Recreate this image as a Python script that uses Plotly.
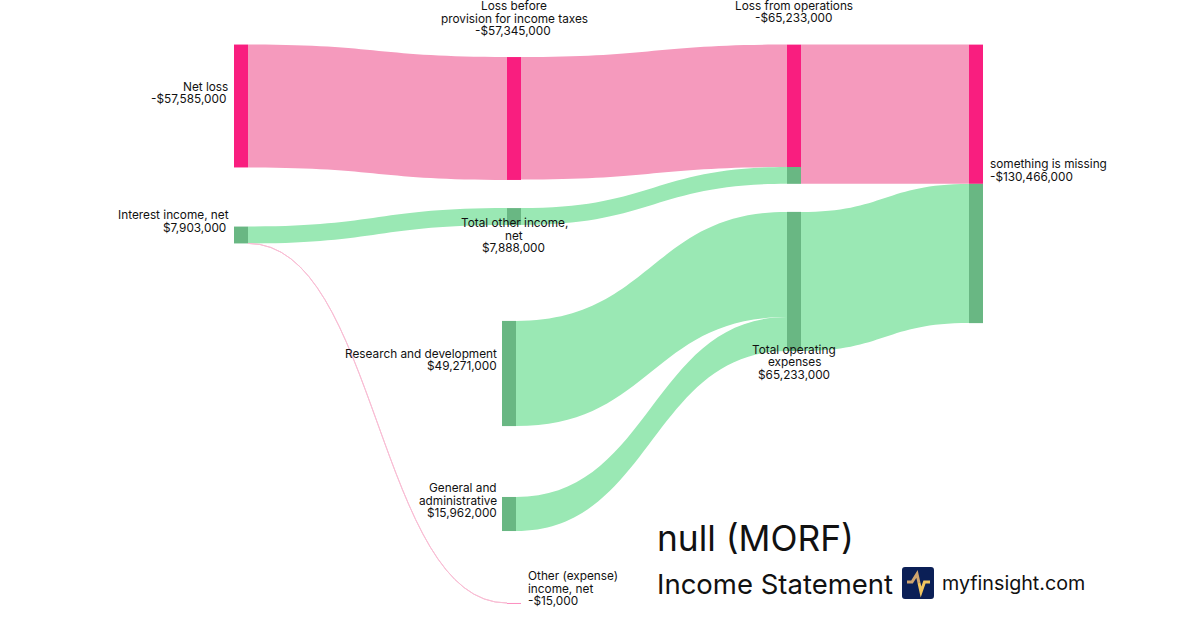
import plotly.graph_objects as go

W, H = 1200, 630

# ---- data (USD millions) ----
node_names = ["Net loss", "Interest income, net", "Loss before provision for income taxes",
              "Total other income, net", "Research and development", "General and administrative",
              "Other (expense) income, net", "Loss from operations", "Loss from operations (other income)",
              "Total operating expenses", "something is missing", "something is missing (expenses)"]
link_source = [0, 1, 1, 2, 3, 4, 5, 7, 8, 9]
link_target = [2, 3, 6, 7, 8, 9, 9, 10, 10, 11]
link_value = [57.585, 7.888, 0.015, 57.345, 7.888, 49.271, 15.962, 57.345, 7.888, 65.233]

PINK, GREEN = "#F91E7F", "#69B783"
PINK_L, GREEN_L = "#F59ABD", "#9AE8B4"
PINK_HAIR = "#F9BDD4"
node_colors = [PINK, GREEN, PINK, GREEN, GREEN, GREEN, PINK, PINK, GREEN, GREEN, PINK, GREEN]
link_colors = [PINK_L, GREEN_L, PINK_HAIR, PINK_L, GREEN_L, GREEN_L, GREEN_L, PINK_L, PINK_L, GREEN_L]

# ---- layout in pixels ----
node_cx = [241, 241, 514, 514, 509, 509, 514, 794, 794, 794, 976, 976]
node_cy = [106, 235, 118.5, 216.5, 373.5, 514, 603, 105.805, 175.42, 281.5, 114.225, 253.5]

fig = go.Figure(go.Sankey(
    arrangement="fixed",
    domain=dict(x=[0, 1], y=[0, 1]),
    node=dict(
        label=[""] * len(node_names), customdata=node_names, hovertemplate="%{customdata}<extra></extra>",
        x=[c / W for c in node_cx], y=[c / H for c in node_cy],
        thickness=14, pad=117, color=node_colors,
        line=dict(width=0),
    ),
    link=dict(
        source=link_source, target=link_target, value=link_value, color=link_colors,
        line=dict(width=0),
        hoverinfo="skip",
    ),
))

# ---- text ----
label_lines = [
    ("Net loss", 228, 87, "right"), ("-$57,585,000", 226, 99, "right"),
    ("Interest income, net", 229, 215, "right"), ("$7,903,000", 226, 228, "right"),
    ("Loss before", 514, 6, "center"), ("provision for income taxes", 514, 19, "center"), ("-$57,345,000", 513, 31, "center"),
    ("Total other income,", 514, 223, "center"), ("net", 514, 236, "center"), ("$7,888,000", 513, 248, "center"),
    ("Research and development", 497, 354, "right"), ("$49,271,000", 497, 366, "right"),
    ("General and", 497, 488, "right"), ("administrative", 497, 501, "right"), ("$15,962,000", 497, 513, "right"),
    ("Other (expense)", 528, 576, "left"), ("income, net", 528, 589, "left"), ("-$15,000", 528, 601, "left"),
    ("Loss from operations", 794, 6, "center"), ("-$65,233,000", 794, 18, "center"),
    ("Total operating", 794, 350, "center"), ("expenses", 794, 362, "center"), ("$65,233,000", 794, 375, "center"),
    ("something is missing", 990, 164, "left"), ("-$130,466,000", 990, 177, "left"),
]
annotations = [
    dict(text=t, x=x / W, y=1 - y / H, xref="paper", yref="paper", xanchor=a, yanchor="middle",
         showarrow=False, align=a, font=dict(family="Inter", size=11.8, color="#111111"),
         borderpad=0, borderwidth=0)
    for t, x, y, a in label_lines
]
for t, x, y, s in [("null (MORF)", 657, 538, 35.3), ("Income Statement", 657, 584, 27.5), ("myfinsight.com", 942, 583, 19.7)]:
    annotations.append(dict(text=t, x=x / W, y=1 - y / H, xref="paper", yref="paper", xanchor="left",
                            yanchor="middle", showarrow=False, font=dict(family="Inter", size=s, color="#111111"),
                            borderpad=0, borderwidth=0))

# ---- logo ----
def px(x, y):
    return f"{x / W:.5f},{1 - y / H:.5f}"

def path(pts):
    return "M " + " L ".join(px(*p) for p in pts)

lx0, lx1, ly0, ly1, r = 902, 934, 567, 599, 3
rounded = (f"M {px(lx0 + r, ly0)} L {px(lx1 - r, ly0)} Q {px(lx1, ly0)} {px(lx1, ly0 + r)} "
           f"L {px(lx1, ly1 - r)} Q {px(lx1, ly1)} {px(lx1 - r, ly1)} L {px(lx0 + r, ly1)} "
           f"Q {px(lx0, ly1)} {px(lx0, ly1 - r)} L {px(lx0, ly0 + r)} Q {px(lx0, ly0)} {px(lx0 + r, ly0)} Z")
shapes = [
    dict(type="path", xref="paper", yref="paper", path=rounded, fillcolor="#0B1F56", line_width=0),
    dict(type="path", xref="paper", yref="paper", path=path([(907, 582), (912, 582), (917, 574), (919, 583)]),
         line=dict(color="#D0A56E", width=3)),
    dict(type="path", xref="paper", yref="paper", path=path([(919, 583), (921, 592), (924.5, 582), (930, 582)]),
         line=dict(color="#F2C65F", width=3)),
]

fig.update_layout(width=W, height=H, margin=dict(l=0, r=0, t=0, b=0), paper_bgcolor="white",
                  plot_bgcolor="white", showlegend=False, annotations=annotations, shapes=shapes,
                  font=dict(family="Inter"))
fig.write_html("out.html", config={"displayModeBar": False},
               post_script="document.body.style.margin='0';document.body.style.overflow='hidden';")
